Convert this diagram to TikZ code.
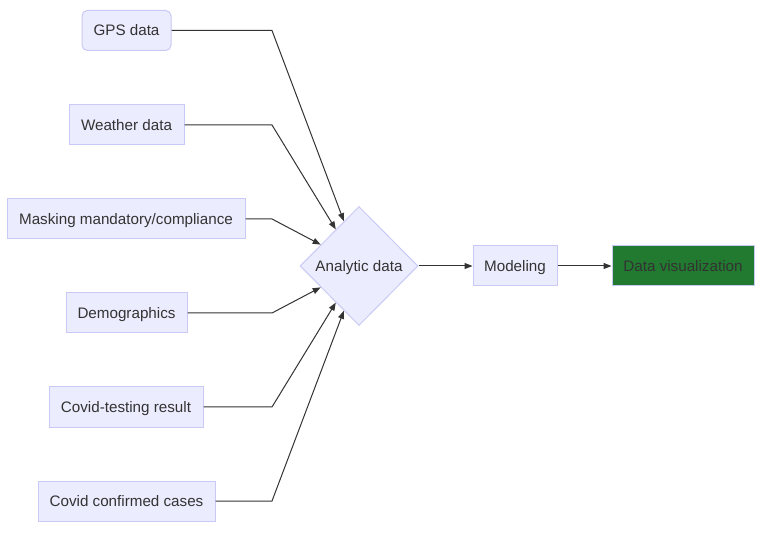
\documentclass[tikz,border=0pt]{standalone}
\usepackage{fontspec}
\setmainfont{Liberation Sans}
\usetikzlibrary{shapes.geometric,arrows.meta,calc}
\definecolor{nodefill}{HTML}{ECECFF}
\definecolor{nodeline}{HTML}{C9C9F5}
\definecolor{txt}{HTML}{333333}
\definecolor{vizfill}{HTML}{217A2F}
\begin{document}
\begin{tikzpicture}[x=0.75pt,y=-0.75pt,
  box/.style={draw=nodeline, fill=nodefill, text=txt, line width=0.75pt, inner sep=0pt,
    minimum height=30pt, text height=8.2pt, text depth=0.3pt, font=\fontsize{11.4}{13}\selectfont},
  link/.style={draw=txt, line width=0.75pt, -{Triangle[length=6pt,width=4.5pt]}}]
\useasboundingbox (0,0) rectangle (768,538);
% sources
\node[box, rounded corners=4pt, minimum width=66.75pt] (gps) at (126.5,30.5) {GPS data};
\node[box, minimum width=86.25pt] (wea) at (126.5,125) {Weather data};
\node[box, minimum width=178.5pt] (mask) at (126,219) {Masking mandatory/compliance};
\node[box, minimum width=90.75pt] (demo) at (126.5,313) {Demographics};
\node[box, minimum width=115.5pt] (test) at (126,407) {Covid-testing result};
\node[box, minimum width=132.75pt] (conf) at (126.5,501) {Covid confirmed cases};
% diamond
\node[box, diamond, minimum width=88.5pt, minimum height=89.25pt] (ana) at (359,266) {Analytic data};
% right side
\node[box, minimum width=63pt] (mod) at (515,266) {Modeling};
\node[box, fill=vizfill, minimum width=106.5pt] (viz) at (683,266) {Data visualization};
\coordinate (kx) at (272,0);
% connectors
\draw[link] (gps.east) -- (gps.east -| kx) -- ($(ana.west)!0.746!(ana.north)$);
\draw[link] (wea.east) -- (wea.east -| kx) -- ($(ana.west)!0.61!(ana.north)$);
\draw[link] (mask.east) -- (mask.east -| kx) -- ($(ana.west)!0.356!(ana.north)$);
\draw[link] (demo.east) -- (demo.east -| kx) -- ($(ana.west)!0.356!(ana.south)$);
\draw[link] (test.east) -- (test.east -| kx) -- ($(ana.west)!0.61!(ana.south)$);
\draw[link] (conf.east) -- (conf.east -| kx) -- ($(ana.west)!0.746!(ana.south)$);
\draw[link] (ana.east) -- (mod.west);
\draw[link] (mod.east) -- (viz.west);
\end{tikzpicture}
\end{document}
